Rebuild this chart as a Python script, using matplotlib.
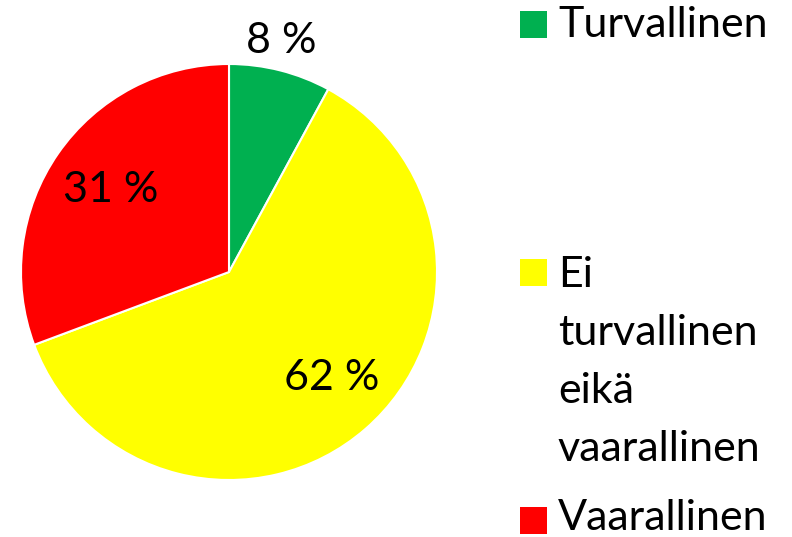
import matplotlib
matplotlib.use("Agg")
import matplotlib.pyplot as plt
import numpy as np
from matplotlib.patches import Rectangle

categories = ["Turvallinen", "Ei\nturvallinen\neikä\nvaarallinen", "Vaarallinen"]
values = [8, 62, 31]
pct_labels = ["8 %", "62 %", "31 %"]
colors = ["#00B050", "#FFFF00", "#FF0000"]

W, H = 792, 537
fig = plt.figure(figsize=(W / 100, H / 100), dpi=100)
fig.patch.set_facecolor("white")

FONT = "Lato"
FS = 31

cx, cy, r = 229, 272, 208
ax = fig.add_axes([(cx - r) / W, (H - cy - r) / H, 2 * r / W, 2 * r / H])
wedges, _ = ax.pie(values, colors=colors, startangle=90, counterclock=False,
                   radius=1, wedgeprops=dict(linewidth=1.5, edgecolor="white"))
ax.set_xlim(-1, 1)
ax.set_ylim(-1, 1)
ax.set_aspect("auto")
ax.axis("off")

dists = [1.14, 0.71, 0.69]
offsets = [1.5, 3, 0]
for w, lab, d, off in zip(wedges, pct_labels, dists, offsets):
    ang = np.deg2rad((w.theta1 + w.theta2) / 2 + off)
    ax.text(d * np.cos(ang), d * np.sin(ang), lab, ha="center", va="center",
            fontsize=FS, family=FONT, color="black", clip_on=False)

# legend
sq = 27
leg_x = 520
text_x = 558
baselines = [37, 287, 530]
sq_tops = [11, 259, 507]
for col, top, base, cat in zip(colors, sq_tops, baselines, categories):
    fig.patches.append(Rectangle((leg_x / W, (H - top - sq) / H), sq / W, sq / H,
                                 transform=fig.transFigure, facecolor=col,
                                 edgecolor="none"))
    lines = cat.split("\n")
    for i, line in enumerate(lines):
        fig.text(text_x / W, (H - base - 58 * i) / H, line, ha="left",
                 va="baseline", fontsize=FS, family=FONT, color="black")

fig.savefig("out.png", dpi=100, facecolor="white")
